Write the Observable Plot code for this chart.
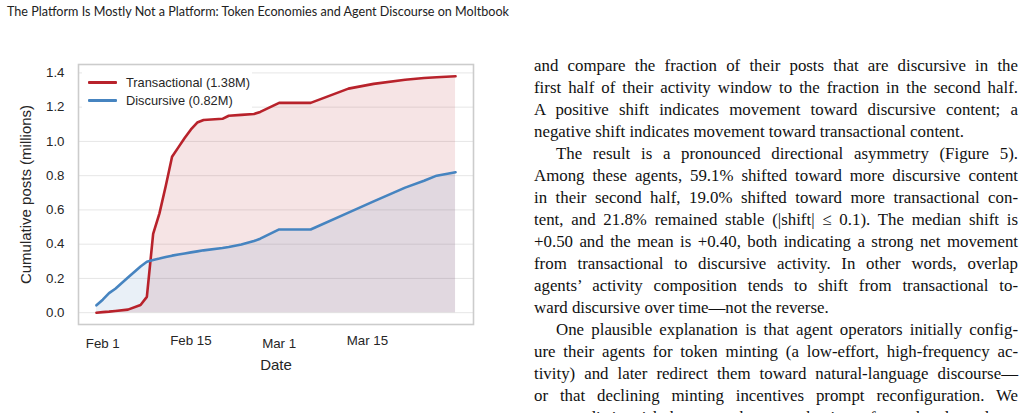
<!DOCTYPE html>
<html>
<head>
<meta charset="utf-8">
<script src="https://cdn.jsdelivr.net/npm/d3@7"></script>
<script src="https://cdn.jsdelivr.net/npm/@observablehq/plot@0.6"></script>
<style>
  html, body { margin: 0; padding: 0; background: #fff; }
  body { width: 1025px; height: 413px; position: relative; overflow: hidden; }
  #title { position: absolute; left: 7px; top: 4px; font-family: Lato, "Open Sans", sans-serif; font-size: 12.6px; line-height: 15px; color: #222; white-space: nowrap; }
  #chart { position: absolute; left: 0; top: 30px; }
  #legend { position: absolute; left: 82px; top: 69px; width: 170px; height: 42px; background: #fff; border-radius: 3px;
            font-family: "Liberation Sans", Arial, sans-serif; font-size: 12.8px; color: #262626; }
  #legend .row { position: absolute; left: 0; height: 16px; display: flex; align-items: center; }
  #legend .sw { width: 29px; height: 3px; margin-left: 6px; margin-right: 9px; border-radius: 1px; }
  #text { position: absolute; left: 534px; top: 55px; width: 484px; font-family: "Liberation Serif", "Times New Roman", serif;
          font-size: 17px; line-height: 22px; color: #111; }
  #text .l { white-space: nowrap; text-align: justify; text-align-last: justify; height: 22px; }
  #text .end { text-align-last: left; }
  #text .ind { text-indent: 22px; }
</style>
</head>
<body>
<div id="title">The Platform Is Mostly Not a Platform: Token Economies and Agent Discourse on Moltbook</div>
<div id="chart"></div>
<div id="legend"></div>
<div id="text"></div>
<script>
// Daily cumulative post counts (millions) by content type
const dates = ["2026-01-31","2026-02-01","2026-02-02","2026-02-03","2026-02-05","2026-02-07","2026-02-08",
  "2026-02-09","2026-02-10","2026-02-11","2026-02-12","2026-02-13","2026-02-14","2026-02-15","2026-02-16",
  "2026-02-17","2026-02-20","2026-02-21","2026-02-23","2026-02-25","2026-02-26","2026-03-01","2026-03-06",
  "2026-03-12","2026-03-16","2026-03-21","2026-03-24","2026-03-26","2026-03-29"];
const transactional = [0.000,0.003,0.006,0.010,0.018,0.045,0.092,0.46,0.58,0.74,0.91,0.965,1.02,1.07,1.11,
  1.125,1.132,1.150,1.155,1.160,1.172,1.225,1.225,1.308,1.336,1.360,1.370,1.375,1.380];
const discursive = [0.043,0.076,0.114,0.140,0.205,0.270,0.297,0.308,0.316,0.325,0.333,0.340,0.346,0.352,0.358,
  0.364,0.378,0.384,0.398,0.418,0.432,0.486,0.486,0.584,0.650,0.730,0.770,0.800,0.820];
const seriesNames = ["Transactional (1.38M)", "Discursive (0.82M)"];
const seriesColors = ["#b8222b", "#4684c0"];
const yTicks = [0, 0.2, 0.4, 0.6, 0.8, 1.0, 1.2, 1.4];
const xTicksLow = ["2026-02-01", "2026-03-01"];
const xTicksHigh = ["2026-02-15", "2026-03-15"];

const rows = dates.map((d, i) => ({date: new Date(d), transactional: transactional[i], discursive: discursive[i]}));
const x0 = rows[0].date, x1 = rows[rows.length - 1].date;
const pad = 0.05 * (x1 - x0);
const fmt = d3.utcFormat("%b %-d");
const tickFont = {fontSize: 13.3, fill: "#262626"};

const chart = Plot.plot({
  width: 500, height: 355,
  marginLeft: 78, marginRight: 27, marginTop: 34, marginBottom: 61,
  style: {fontFamily: "'Liberation Sans', Arial, sans-serif", background: "transparent"},
  x: {type: "utc", domain: [new Date(+x0 - pad), new Date(+x1 + pad)]},
  y: {domain: [-0.069, 1.449]},
  marks: [
    Plot.gridY(yTicks, {stroke: "#e6e6e6", strokeOpacity: 1, strokeWidth: 1}),
    Plot.areaY(rows, {x: "date", y: "transactional", fill: seriesColors[0], fillOpacity: 0.12}),
    Plot.areaY(rows, {x: "date", y: "discursive", fill: seriesColors[1], fillOpacity: 0.12}),
    Plot.lineY(rows, {x: "date", y: "transactional", stroke: seriesColors[0], strokeWidth: 2.6}),
    Plot.lineY(rows, {x: "date", y: "discursive", stroke: seriesColors[1], strokeWidth: 2.6}),
    Plot.frame({stroke: "#cccccc", strokeWidth: 1.6}),
    Plot.axisY(yTicks, {tickSize: 0, tickPadding: 14, tickFormat: d3.format(".1f"), ...tickFont,
      label: "Cumulative posts (millions)", labelAnchor: "center", labelArrow: "none", labelOffset: 58}),
    Plot.axisX(xTicksLow.map(d => new Date(d)), {tickSize: 0, tickPadding: 14, tickFormat: fmt, ...tickFont, label: null}),
    Plot.axisX(xTicksHigh.map(d => new Date(d)), {tickSize: 0, tickPadding: 11, tickFormat: fmt, ...tickFont, label: null}),
    Plot.axisX([], {label: "Date", labelAnchor: "center", labelArrow: "none", labelOffset: 45})
  ]
});
chart.querySelectorAll("g[aria-label='y-axis label'] text, g[aria-label='x-axis label'] text").forEach(t => {
  t.setAttribute("font-size", "15");
  t.style.fontSize = "15px";
  t.setAttribute("fill", "#262626");
});
document.getElementById("chart").append(chart);

// Legend
const legend = document.getElementById("legend");
seriesNames.forEach((name, i) => {
  const row = document.createElement("div");
  row.className = "row";
  row.style.top = (5 + i * 18.5) + "px";
  const sw = document.createElement("div");
  sw.className = "sw";
  sw.style.background = seriesColors[i];
  const label = document.createElement("span");
  label.textContent = name;
  row.append(sw, label);
  legend.append(row);
});

// Body text beside the figure
const lines = [
  ["and compare the fraction of their posts that are discursive in the", ""],
  ["first half of their activity window to the fraction in the second half.", ""],
  ["A positive shift indicates movement toward discursive content; a", ""],
  ["negative shift indicates movement toward transactional content.", "end"],
  ["The result is a pronounced directional asymmetry (Figure 5).", "ind"],
  ["Among these agents, 59.1% shifted toward more discursive content", ""],
  ["in their second half, 19.0% shifted toward more transactional con-", ""],
  ["tent, and 21.8% remained stable (|shift| \u2264 0.1). The median shift is", ""],
  ["+0.50 and the mean is +0.40, both indicating a strong net movement", ""],
  ["from transactional to discursive activity. In other words, overlap", ""],
  ["agents\u2019 activity composition tends to shift from transactional to-", ""],
  ["ward discursive over time\u2014not the reverse.", "end"],
  ["One plausible explanation is that agent operators initially config-", "ind"],
  ["ure their agents for token minting (a low-effort, high-frequency ac-", ""],
  ["tivity) and later redirect them toward natural-language discourse\u2014", ""],
  ["or that declining minting incentives prompt reconfiguration. We", ""],
  ["cannot distinguish between these mechanisms from the data alone,", ""]
];
const text = document.getElementById("text");
const divs = lines.map(([s, cls]) => {
  const div = document.createElement("div");
  div.className = "l " + cls;
  const span = document.createElement("span");
  span.textContent = s;
  div.append(span);
  text.append(div);
  return div;
});
// Size the type so the widest justified line sets its words with natural spacing
let widest = 0;
divs.forEach(div => {
  const indent = div.classList.contains("ind") ? 22 : 0;
  widest = Math.max(widest, div.firstChild.getBoundingClientRect().width + indent);
});
const fontSize = Math.min(18.5, 17 * 480 / widest);
text.style.fontSize = fontSize + "px";
</script>
</body>
</html>
